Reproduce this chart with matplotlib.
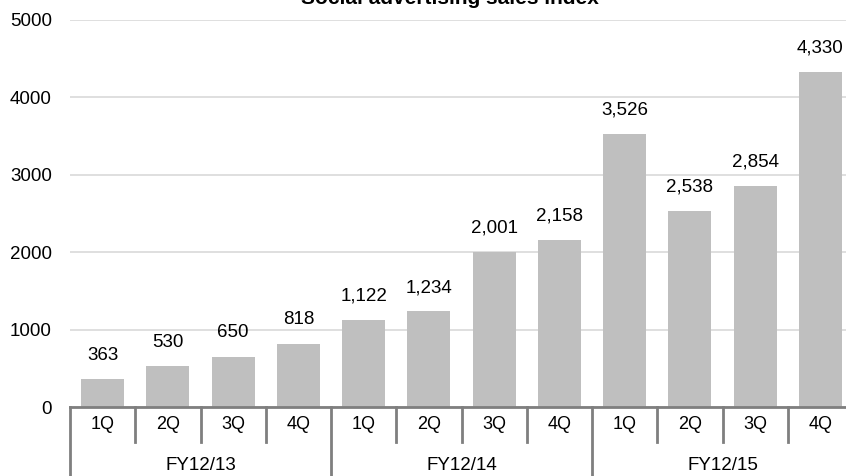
import matplotlib
matplotlib.use('Agg')
import matplotlib.pyplot as plt
import matplotlib.transforms as mtransforms

quarters = ['1Q', '2Q', '3Q', '4Q'] * 3
years = ['FY12/13', 'FY12/14', 'FY12/15']
sales = [363, 530, 650, 818, 1122, 1234, 2001, 2158, 3526, 2538, 2854, 4330]
yticks = [0, 1000, 2000, 3000, 4000, 5000]

W, H = 846, 476
fig = plt.figure(figsize=(W / 100, H / 100), dpi=100)
ax = fig.add_axes([70 / W, 1 - 407 / H, 783 / W, 387 / H])

font = 'Liberation Sans'

x = list(range(len(sales)))
ax.bar(x, sales, width=0.66, color='#bfbfbf', zorder=2)
ax.set_xlim(-0.5, len(sales) - 0.5)
ax.set_ylim(0, 5000)

ax.set_yticks(yticks)
ax.set_yticklabels([str(t) for t in yticks], family=font, fontsize=13.5)
ax.tick_params(axis='y', length=0, pad=13)
ax.set_xticks([])
ax.yaxis.grid(True, color='#d9d9d9', lw=1.2, zorder=0)
for s in ['top', 'right', 'left']:
    ax.spines[s].set_visible(False)
ax.spines['bottom'].set_color('#7f7f7f')
ax.spines['bottom'].set_linewidth(2)
ax.spines['bottom'].set_zorder(3)

# value labels above bars
for xi, v in zip(x, sales):
    ax.annotate('{:,}'.format(v), (xi, v), xytext=(0, 11), textcoords='offset points',
                ha='center', va='bottom', fontsize=13.5, family=font)

# two level category axis
trans = mtransforms.blended_transform_factory(ax.transData, ax.transAxes)
for xi, q in zip(x, quarters):
    ax.text(xi, -0.0465, q, transform=trans, ha='center', va='center',
            fontsize=13, family=font)
for i, yr in enumerate(years):
    ax.text(i * 4 + 1.5, -0.152, yr, transform=trans, ha='center', va='center',
            fontsize=13.5, family=font)

for b in range(len(sales) + 1):
    xb = b - 0.5
    bottom = -0.2 if b % 4 == 0 else -0.0904
    ax.plot([xb, xb], [0, bottom], transform=trans, color='#7f7f7f', lw=2,
            clip_on=False, zorder=3)

fig.text(450 / W, 1 - 4.5 / H, 'Social advertising sales index', ha='center', va='baseline',
         fontsize=15, fontweight='bold', family=font)

fig.savefig('out.png', dpi=100)
